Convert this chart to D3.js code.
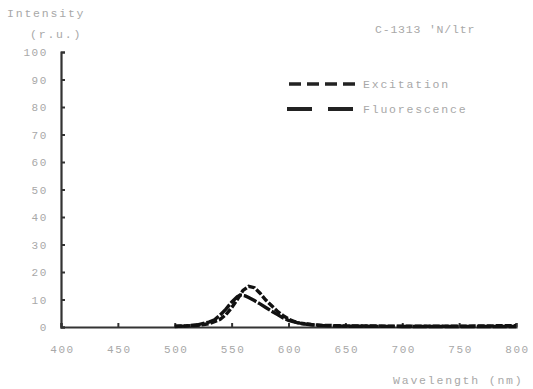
<!DOCTYPE html>
<html>
<head>
<meta charset="utf-8">
<script src="https://cdn.jsdelivr.net/npm/d3@7"></script>
<style>
body { margin: 0; background: #fff; }
text { font-family: "Liberation Mono", "DejaVu Sans Mono", monospace; fill: #a8a8a8; font-size: 11.5px; }
</style>
</head>
<body>
<div id="chart"></div>
<script>
// spectra
var exWave = [500, 510, 520, 530, 540, 545, 550, 555, 560, 565, 570, 575, 580, 585, 590, 595, 600, 605, 610, 620, 630, 650, 700, 750, 800];
var exValue = [0.3, 0.4, 0.6, 1.2, 2.8, 4.5, 7, 10, 13.3, 14.8, 14.3, 12.3, 9.8, 7.8, 5.8, 4.2, 2.9, 2, 1.4, 0.9, 0.6, 0.4, 0.3, 0.3, 0.5];
var flWave = [500, 510, 520, 530, 535, 540, 545, 550, 555, 558, 562, 565, 570, 575, 580, 585, 590, 595, 600, 610, 620, 630, 650, 700, 750, 800];
var flValue = [0.2, 0.4, 0.8, 1.8, 2.6, 4.4, 6.5, 9, 11, 11.6, 11.3, 10.7, 9.6, 8.4, 7.1, 5.8, 4.6, 3.4, 2.4, 1.3, 0.8, 0.5, 0.3, 0.2, 0.2, 0.2];
var xTicks = [400, 450, 500, 550, 600, 650, 700, 750, 800];
var yTicks = [0, 10, 20, 30, 40, 50, 60, 70, 80, 90, 100];
var seriesNames = ["Excitation", "Fluorescence"];

var w = 533, h = 389;

var svg = d3.select("#chart").append("svg")
    .attr("width", w)
    .attr("height", h);

var x = d3.scaleLinear().domain([400, 800]).range([61, 516]);
var y = d3.scaleLinear().domain([0, 100]).range([327, 52]);

// axes, ticks point into the plot
var xAxis = svg.append("g")
    .attr("transform", "translate(0," + y(0) + ")")
    .call(d3.axisBottom(x).tickValues(xTicks).tickSize(-4).tickPadding(18).tickFormat(d3.format("d")));
var yAxis = svg.append("g")
    .attr("transform", "translate(" + x(400) + ",0)")
    .call(d3.axisLeft(y).tickValues(yTicks).tickSize(-4).tickPadding(13).tickFormat(d3.format("d")));

[xAxis, yAxis].forEach(function(a) {
    a.select(".domain").attr("stroke", "#333").attr("stroke-width", 2.2);
    a.selectAll(".tick line").attr("stroke", "#333").attr("stroke-width", 2);
    a.selectAll(".tick text")
        .style("font-size", "11px")
        .style("letter-spacing", "1.6px")
        .attr("fill", "#a8a8a8");
});
xAxis.selectAll(".tick text").attr("dx", "1px");

var line = d3.line()
    .x(function(d) { return x(d[0]); })
    .y(function(d) { return y(d[1]); })
    .curve(d3.curveLinear);

var exData = exWave.map(function(v, i) { return [v, exValue[i]]; });
var flData = flWave.map(function(v, i) { return [v, flValue[i]]; });

svg.append("path")
    .datum(flData)
    .attr("d", line)
    .attr("fill", "none")
    .attr("stroke", "#111")
    .attr("stroke-width", 3.4)
    .attr("stroke-dasharray", "14,2");

svg.append("path")
    .datum(exData)
    .attr("d", line)
    .attr("fill", "none")
    .attr("stroke", "#111")
    .attr("stroke-width", 3.4)
    .attr("stroke-dasharray", "7,2");

// legend
var legend = svg.append("g");
legend.append("line")
    .attr("x1", 289).attr("x2", 360).attr("y1", 84).attr("y2", 84)
    .attr("stroke", "#222").attr("stroke-width", 3.5)
    .attr("stroke-dasharray", "12,6");
legend.append("line")
    .attr("x1", 287).attr("x2", 354).attr("y1", 109).attr("y2", 109)
    .attr("stroke", "#222").attr("stroke-width", 4)
    .attr("stroke-dasharray", "25,16");
legend.append("text").attr("x", 363).attr("y", 88).style("letter-spacing", "1.8px").text(seriesNames[0]);
legend.append("text").attr("x", 363).attr("y", 113).style("letter-spacing", "1.8px").text(seriesNames[1]);

// labels
svg.append("text").attr("x", 7).attr("y", 17).style("letter-spacing", "1.8px").text("Intensity");
svg.append("text").attr("x", 30).attr("y", 38).style("letter-spacing", "1.8px").text("(r.u.)");
svg.append("text").attr("x", 375).attr("y", 33).style("letter-spacing", "0.8px").text("C-1313 'N/ltr");
svg.append("text").attr("x", 393).attr("y", 384).style("letter-spacing", "1.8px").text("Wavelength (nm)");
</script>
</body>
</html>
